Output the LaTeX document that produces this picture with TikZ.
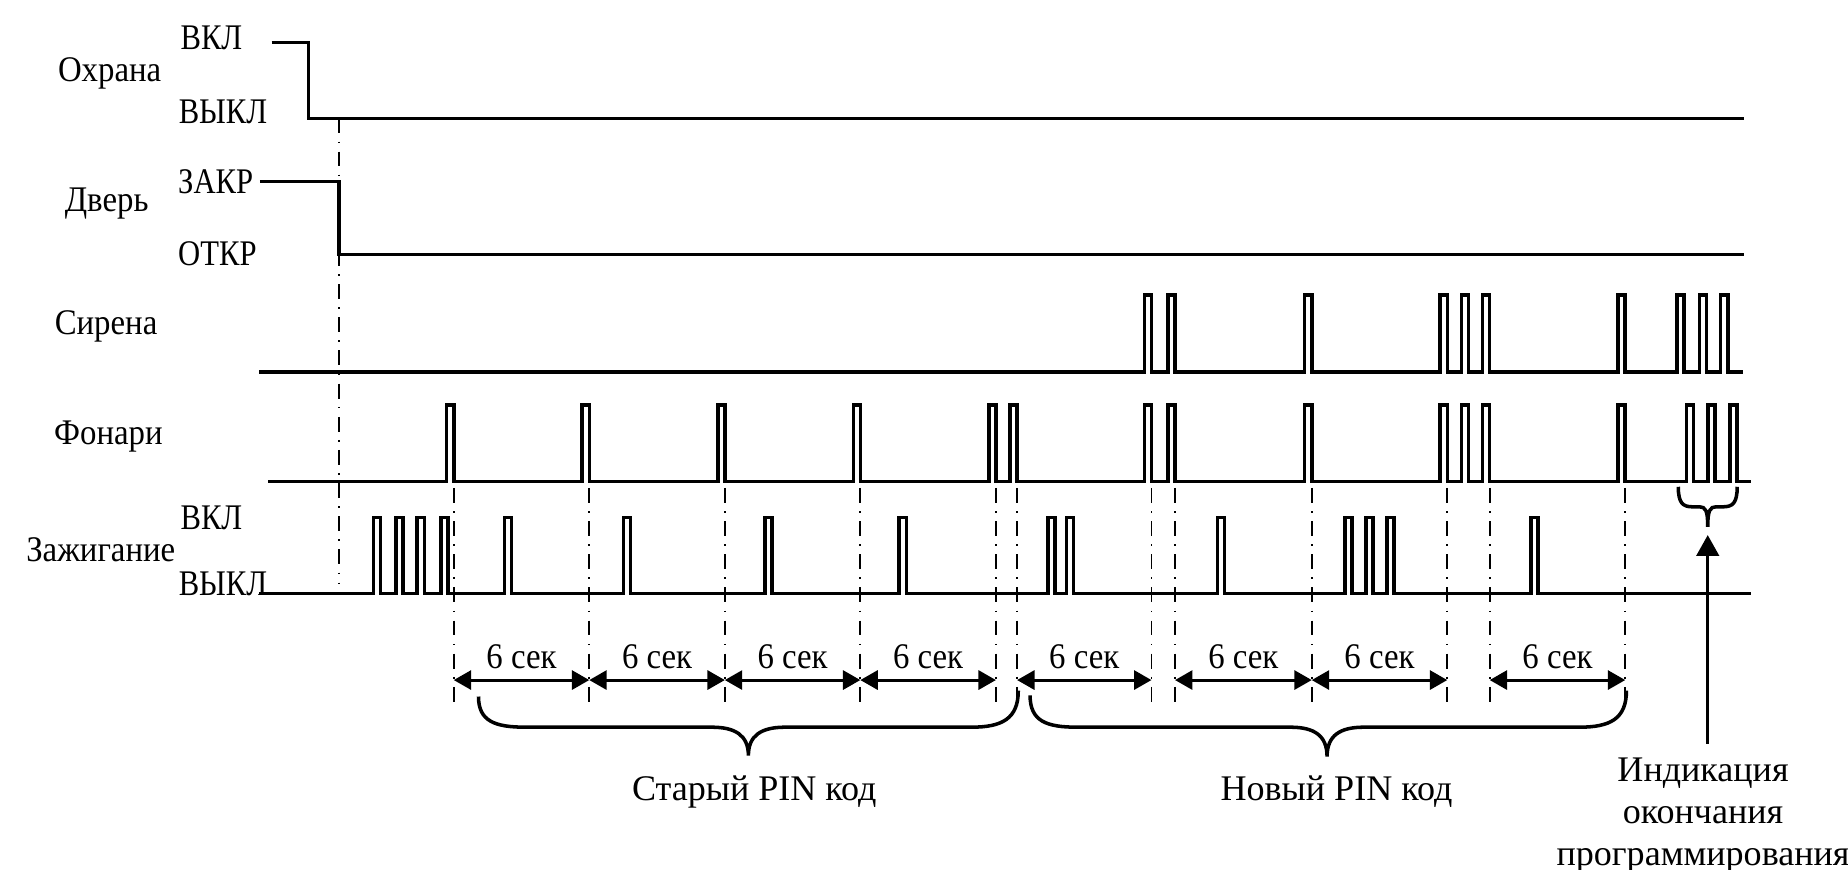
\documentclass[tikz,border=0pt]{standalone}
\usepackage{fontspec}
\setmainfont{Liberation Serif}
\newfontfamily\narrowfont[FakeStretch=0.91]{Liberation Serif}
\newfontfamily\capsfont[FakeStretch=0.85]{Liberation Serif}
\newcommand{\diagsize}{\fontsize{8.7}{10.1}\selectfont}
\usetikzlibrary{arrows.meta}
\tikzset{
  sig/.style = {line width=0.85pt, line join=miter},
  guide/.style = {line width=0.45pt, dash pattern=on 3.6pt off 2pt on 0.4pt off 2pt},
  span/.style = {line width=0.7pt,
    {Triangle[length=4.2pt,width=4.6pt]}-{Triangle[length=4.2pt,width=4.6pt]}},
  ptr/.style = {line width=0.7pt, -{Triangle[length=5pt,width=5.4pt]}},
  brc/.style = {line width=0.85pt},
  lvl/.style = {anchor=west, inner sep=0pt, font=\diagsize\capsfont},% state name
  sname/.style = {inner sep=0pt, font=\diagsize\narrowfont},% signal name
  note/.style = {inner sep=0pt, align=center},
  sec/.style = {above=2.4pt, inner sep=0pt, pos=.5, font=\diagsize\narrowfont}
}

\begin{document}
\begin{tikzpicture}[x=0.01cm, y=-0.01cm, font=\diagsize]
\useasboundingbox (0,0) rectangle (1568,738);

% signal names
\node[sname] (ohr) at (93,62) {Охрана};
\node[lvl] (ohr-on) at (152.5,32.5) {ВКЛ};
\node[lvl] (ohr-off) at (151,95) {ВЫКЛ};
\node[sname] (door) at (90.5,172.5) {Дверь};
\node[lvl] (door-cl) at (150.5,154) {ЗАКР};
\node[lvl] (door-op) at (150.5,215) {ОТКР};
\node[sname] (siren) at (90,277) {Сирена};
\node[sname] (lights) at (92,370.5) {Фонари};
\node[sname] (ign) at (85.5,466.7) {Зажигание};
\node[lvl] (ign-on) at (152.5,439.5) {ВКЛ};
\node[lvl] (ign-off) at (151,495) {ВЫКЛ};

% signals
\draw[sig] (230.5,36) -- (261.7,36) -- (261.7,100.4) -- (1480,100.4);
\draw[sig] (220.4,154) -- (287.5,154) -- (287.5,216) -- (1480,216);
\draw[guide] (287.5,100.4) -- (287.5,495);
\draw[sig] (220,315.5) foreach \x in {971,991,1107,1222,1240,1258,1373,1423,1442,1460}
  { -- (\x,315.5) -- (\x,250.5) -- (\x+6,250.5) -- (\x+6,315.5) } -- (1479,315.5);
\draw[sig] (227.5,408.5) foreach \x in {379,494,609,724,839,857,971,991,1107,1222,1240,1258,1373,1431,1449,1468}
  { -- (\x,408.5) -- (\x,343.5) -- (\x+6,343.5) -- (\x+6,408.5) } -- (1486,408.5);
\draw[sig] (220,503.5) foreach \x in {317,336,354,374,428,529,649,763,889,905,1033,1141,1159,1177,1299}
  { -- (\x,503.5) -- (\x,439) -- (\x+6,439) -- (\x+6,503.5) } -- (1486,503.5);

% 6 sec marks
\foreach \x [count=\i] in {385,500,615,730,845,863,977,997,1113,1228,1264,1379} {
  \draw[guide] (\x,414) -- (\x,597);
  \coordinate (g\i) at (\x,577);
}
\draw[span] (g1) -- node[sec] (s1) {6 сек} (g2);
\draw[span] (g2) -- node[sec] (s2) {6 сек} (g3);
\draw[span] (g3) -- node[sec] (s3) {6 сек} (g4);
\draw[span] (g4) -- node[sec] (s4) {6 сек} (g5);
\draw[span] (g6) -- node[sec] (s5) {6 сек} (g7);
\draw[span] (g8) -- node[sec] (s6) {6 сек} (g9);
\draw[span] (g9) -- node[sec] (s7) {6 сек} (g10);
\draw[span] (g11) -- node[sec] (s8) {6 сек} (g12);

% braces
\draw[brc] (406,591) .. controls (406,612) and (420,617) .. (446,617) -- (604,617)
  .. controls (624,617) and (635,624) .. (635,641)
  .. controls (635,624) and (646,617) .. (666,617) -- (824,617)
  .. controls (850,617) and (864,610) .. (864,586);
\draw[brc] (874,590) .. controls (874,612) and (888,617) .. (914,617) -- (1095,617)
  .. controls (1115,617) and (1126,624) .. (1126,642)
  .. controls (1126,624) and (1137,617) .. (1157,617) -- (1340,617)
  .. controls (1366,617) and (1380,610) .. (1380,586);
\draw[brc] (1424,413) .. controls (1424,427) and (1428,430) .. (1436,430) -- (1442,430)
  .. controls (1447,430) and (1449,433) .. (1449,447)
  .. controls (1449,433) and (1451,430) .. (1456,430) -- (1462,430)
  .. controls (1470,430) and (1474,427) .. (1474,413);

\node[note] (oldpin) at (640,671.7) {Старый PIN код};
\node[note] (newpin) at (1134,671.7) {Новый PIN код};
\node[note] (ind) at (1445,692) {Индикация\\окончания\\программирования};
\coordinate (indtip) at (1449,454);
\draw[ptr] (indtip |- 0,631) -- (indtip);
\end{tikzpicture}
\end{document}
